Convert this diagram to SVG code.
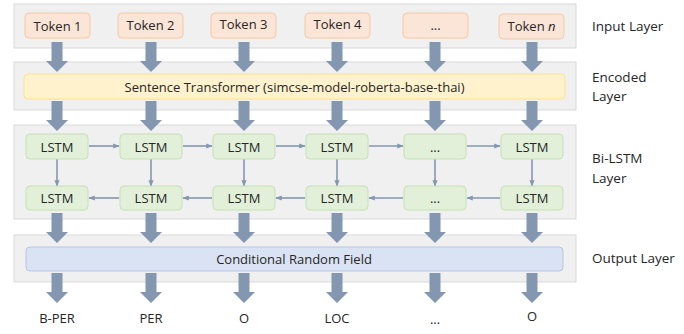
<svg xmlns="http://www.w3.org/2000/svg" width="684" height="334" viewBox="0 0 684 334">
<defs>
<style>
text{font-family:"Open Sans","Liberation Sans",sans-serif;fill:#262626;text-anchor:middle;dominant-baseline:central}
.panel{fill:#f0f0f0;stroke:#d9d9d9;stroke-width:1}
.tok{fill:#fbe5d6;stroke:#f4c9a8;stroke-width:1}
.enc{fill:#fff2cc;stroke:#ffe28a;stroke-width:1}
.lstm{fill:#e2f0d9;stroke:#c5e0b4;stroke-width:1}
.crf{fill:#dae3f3;stroke:#b4c7e7;stroke-width:1}
.t{font-size:13px}
.side{font-size:13.5px;text-anchor:start}
.big{fill:#8497b0}
.thin{stroke:#8497b0;stroke-width:1.6;fill:none;marker-end:url(#ah)}
</style>
<marker id="ah" viewBox="0 0 10 10" refX="9" refY="5" markerWidth="4" markerHeight="4" orient="auto" markerUnits="strokeWidth">
<path d="M0,1 L10,5 L0,9 Z" fill="#8497b0"/>
</marker>
<path id="big" d="M-5.5,0 H5.5 V19 H11 L0,30 L-11,19 H-5.5 Z"/>
</defs>
<rect width="684" height="334" fill="#ffffff"/>

<g id="panels">
<rect class="panel" x="14" y="4" width="562" height="44"/>
<rect class="panel" x="14" y="62" width="562" height="48"/>
<rect class="panel" x="14" y="125" width="562" height="94"/>
<rect class="panel" x="14" y="235" width="562" height="47"/>
</g>

<g id="connectors">
<g class="big">
<use href="#big" x="57" y="42"/><use href="#big" x="151" y="42"/><use href="#big" x="244" y="42"/><use href="#big" x="337" y="42"/><use href="#big" x="435" y="42"/><use href="#big" x="532" y="42"/>
<use href="#big" x="57" y="101"/><use href="#big" x="151" y="101"/><use href="#big" x="244" y="101"/><use href="#big" x="337" y="101"/><use href="#big" x="435" y="101"/><use href="#big" x="532" y="101"/>
<use href="#big" x="57" y="213"/><use href="#big" x="151" y="213"/><use href="#big" x="244" y="213"/><use href="#big" x="337" y="213"/><use href="#big" x="435" y="213"/><use href="#big" x="532" y="213"/>
<use href="#big" x="57" y="273"/><use href="#big" x="151" y="273"/><use href="#big" x="244" y="273"/><use href="#big" x="337" y="273"/><use href="#big" x="435" y="273"/><use href="#big" x="532" y="273"/>
</g>
<path class="thin" d="M89,146 H119"/>
<path class="thin" d="M183,146 H212"/>
<path class="thin" d="M276,146 H305"/>
<path class="thin" d="M369,146 H403"/>
<path class="thin" d="M467,146 H500"/>
<path class="thin" d="M119,198 H89"/>
<path class="thin" d="M212,198 H183"/>
<path class="thin" d="M305,198 H276"/>
<path class="thin" d="M403,198 H369"/>
<path class="thin" d="M500,198 H467"/>
<path class="thin" d="M57,159 V186"/>
<path class="thin" d="M151,159 V186"/>
<path class="thin" d="M244,159 V186"/>
<path class="thin" d="M337,159 V186"/>
<path class="thin" d="M435,159 V186"/>
<path class="thin" d="M532,159 V186"/>
</g>

<g id="token1"><rect class="tok" x="25" y="13" width="65" height="25" rx="4"/><text class="t" x="57.5" y="26">Token 1</text></g>
<g id="token2"><rect class="tok" x="118" y="13" width="65" height="25" rx="4"/><text class="t" x="150.5" y="25">Token 2</text></g>
<g id="token3"><rect class="tok" x="211" y="13" width="65" height="25" rx="4"/><text class="t" x="243.5" y="24">Token 3</text></g>
<g id="token4"><rect class="tok" x="305" y="13" width="65" height="25" rx="4"/><text class="t" x="337.5" y="24">Token 4</text></g>
<g id="token5"><rect class="tok" x="403" y="13" width="65" height="25" rx="4"/><text class="t" x="435.5" y="25">...</text></g>
<g id="tokenn"><rect class="tok" x="499" y="14" width="65" height="25" rx="4"/><text class="t" x="531.5" y="26">Token <tspan font-style="italic">n</tspan></text></g>

<g id="encoder"><rect class="enc" x="24" y="74" width="541" height="25" rx="4"/><text class="t" x="294.5" y="86.5">Sentence Transformer (simcse-model-roberta-base-thai)</text></g>

<g id="f1"><rect class="lstm" x="26" y="134" width="62" height="25" rx="4"/><text class="t" x="57" y="146.5">LSTM</text></g>
<g id="f2"><rect class="lstm" x="120" y="134" width="62" height="25" rx="4"/><text class="t" x="151" y="146.5">LSTM</text></g>
<g id="f3"><rect class="lstm" x="213" y="134" width="62" height="25" rx="4"/><text class="t" x="244" y="146.5">LSTM</text></g>
<g id="f4"><rect class="lstm" x="306" y="134" width="62" height="25" rx="4"/><text class="t" x="337" y="146.5">LSTM</text></g>
<g id="f5"><rect class="lstm" x="404" y="134" width="62" height="25" rx="4"/><text class="t" x="435" y="146.5">...</text></g>
<g id="f6"><rect class="lstm" x="501" y="134" width="62" height="25" rx="4"/><text class="t" x="532" y="146.5">LSTM</text></g>

<g id="b1"><rect class="lstm" x="26" y="186" width="62" height="24" rx="4"/><text class="t" x="57" y="198">LSTM</text></g>
<g id="b2"><rect class="lstm" x="120" y="186" width="62" height="24" rx="4"/><text class="t" x="151" y="198">LSTM</text></g>
<g id="b3"><rect class="lstm" x="213" y="186" width="62" height="24" rx="4"/><text class="t" x="244" y="198">LSTM</text></g>
<g id="b4"><rect class="lstm" x="306" y="186" width="62" height="24" rx="4"/><text class="t" x="337" y="198">LSTM</text></g>
<g id="b5"><rect class="lstm" x="404" y="186" width="62" height="24" rx="4"/><text class="t" x="435" y="198">...</text></g>
<g id="b6"><rect class="lstm" x="501" y="186" width="62" height="24" rx="4"/><text class="t" x="532" y="198">LSTM</text></g>

<g id="crf"><rect class="crf" x="26" y="247" width="537" height="24" rx="4"/><text class="t" x="294" y="258.5">Conditional Random Field</text></g>

<g id="outputs">
<text class="t" x="57" y="318">B-PER</text>
<text class="t" x="151" y="318">PER</text>
<text class="t" x="244" y="318">O</text>
<text class="t" x="337" y="318">LOC</text>
<text class="t" x="435" y="319">...</text>
<text class="t" x="532" y="316">O</text>
</g>

<g id="labels">
<text class="side" x="592" y="26">Input Layer</text>
<text class="side" x="592" y="77">Encoded</text>
<text class="side" x="592" y="96">Layer</text>
<text class="side" x="592" y="158">Bi-LSTM</text>
<text class="side" x="592" y="178">Layer</text>
<text class="side" x="592" y="258">Output Layer</text>
</g>
</svg>
